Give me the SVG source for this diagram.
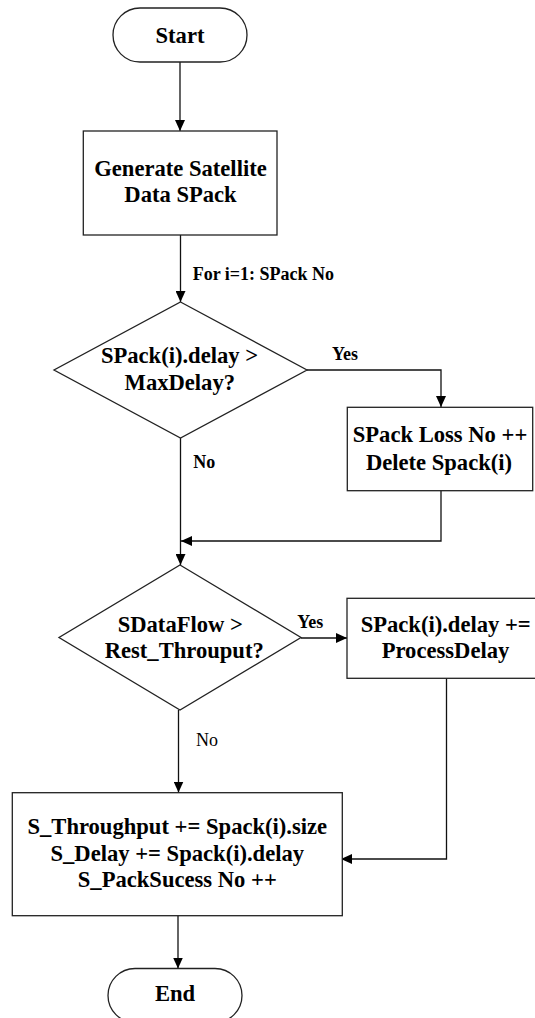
<svg xmlns="http://www.w3.org/2000/svg" width="535" height="1018" viewBox="0 0 535 1018">
  <style>
    .shape { fill: #ffffff; stroke: #222222; stroke-width: 1.3; }
    .wire { fill: none; stroke: #111111; stroke-width: 1.3; }
    .t { font-family: "Liberation Serif", "Times New Roman", serif; font-weight: bold; font-size: 22.6px; fill: #000000; text-anchor: middle; }
    .lbl { font-family: "Liberation Serif", "Times New Roman", serif; font-weight: bold; font-size: 18px; fill: #000000; }
    .lbl-r { font-family: "Liberation Serif", "Times New Roman", serif; font-weight: normal; font-size: 18px; fill: #000000; }
  </style>
  <defs>
    <marker id="arrow" markerUnits="userSpaceOnUse" markerWidth="11" markerHeight="10" refX="11" refY="5" orient="auto">
      <path d="M0,0 L11,5 L0,10 Z" fill="#000000"/>
    </marker>
  </defs>

  <rect width="535" height="1018" fill="#ffffff"/>

  <!-- connectors -->
  <g id="connectors">
    <path class="wire" d="M180,62 V131" marker-end="url(#arrow)"/>
    <path class="wire" d="M180.5,235 V302" marker-end="url(#arrow)"/>
    <path class="wire" d="M307,370 H441 V407" marker-end="url(#arrow)"/>
    <path class="wire" d="M180.5,438 V565" marker-end="url(#arrow)"/>
    <path class="wire" d="M441,491 V541 H181" marker-end="url(#arrow)"/>
    <path class="wire" d="M301,638 H347" marker-end="url(#arrow)"/>
    <path class="wire" d="M178.5,710 V792.5" marker-end="url(#arrow)"/>
    <path class="wire" d="M446.5,678 V859 H341" marker-end="url(#arrow)"/>
    <path class="wire" d="M178,916 V968.5" marker-end="url(#arrow)"/>
    <text class="lbl" x="192.7" y="280">For i=1: SPack No</text>
    <text class="lbl" x="332" y="360">Yes</text>
    <text class="lbl" x="193.3" y="468">No</text>
    <text class="lbl" x="297.3" y="628">Yes</text>
    <text class="lbl-r" x="196" y="746">No</text>
  </g>

  <!-- start terminator -->
  <g id="start">
    <rect class="shape" x="113" y="8" width="134" height="54" rx="27" ry="27"/>
    <text class="t" x="180" y="42.5">Start</text>
  </g>

  <!-- packet generation -->
  <g id="generate">
    <rect class="shape" x="83.3" y="131" width="193.7" height="104"/>
    <text class="t" x="180.5" y="176">Generate Satellite</text>
    <text class="t" x="180.5" y="202">Data SPack</text>
  </g>

  <!-- delay check -->
  <g id="delay-check">
    <polygon class="shape" points="180.5,302 307,370 180.5,438 54,370"/>
    <text class="t" x="179.5" y="363.3">SPack(i).delay &gt;</text>
    <text class="t" x="179.8" y="390">MaxDelay?</text>
  </g>

  <!-- packet loss -->
  <g id="loss">
    <rect class="shape" x="347.3" y="407.3" width="185.4" height="83.4"/>
    <text class="t" x="440" y="441.7">SPack Loss No ++</text>
    <text class="t" x="439" y="470">Delete Spack(i)</text>
  </g>

  <!-- throughput check -->
  <g id="flow-check">
    <polygon class="shape" points="180,565 301,637.5 180,710 59,637.5"/>
    <text class="t" x="180.3" y="631.7">SDataFlow &gt;</text>
    <text class="t" x="184.2" y="658.3">Rest_Throuput?</text>
  </g>

  <!-- extra processing delay -->
  <g id="process-delay">
    <rect class="shape" x="347" y="598.3" width="200" height="80"/>
    <text class="t" x="445.7" y="631.7">SPack(i).delay +=</text>
    <text class="t" x="445.5" y="658.3">ProcessDelay</text>
  </g>

  <!-- statistics update -->
  <g id="stats">
    <rect class="shape" x="12.3" y="792.7" width="330" height="123"/>
    <text class="t" x="177.3" y="834.3">S_Throughput += Spack(i).size</text>
    <text class="t" x="177.3" y="861">S_Delay += Spack(i).delay</text>
    <text class="t" x="177.3" y="887.3">S_PackSucess No ++</text>
  </g>

  <!-- end terminator -->
  <g id="end">
    <rect class="shape" x="108" y="968.5" width="134" height="54" rx="27" ry="27"/>
    <text class="t" x="175" y="1001">End</text>
  </g>
</svg>
